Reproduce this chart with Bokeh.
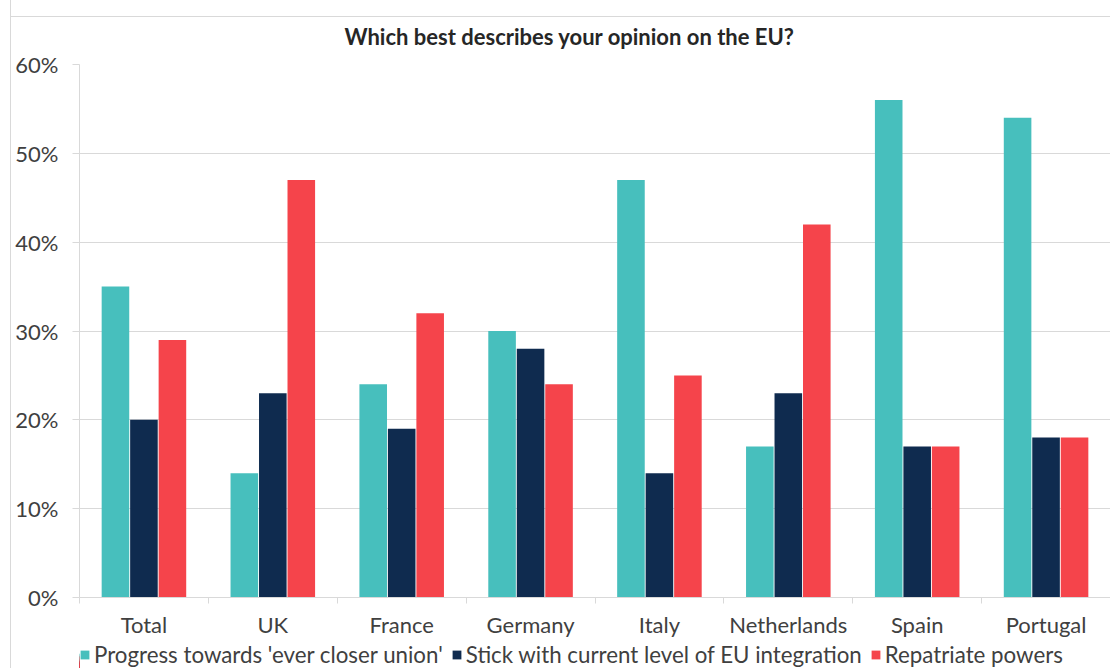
from bokeh.plotting import figure
from bokeh.layouts import column
from bokeh.models import (ColumnDataSource, Range1d, FixedTicker, CustomJSTickFormatter,
                          NumeralTickFormatter, Legend, LegendItem)
from bokeh.transform import dodge
from bokeh.embed import file_html
from bokeh.resources import INLINE

categories = ["Total", "UK", "France", "Germany", "Italy", "Netherlands", "Spain", "Portugal"]
progress = [35, 14, 24, 30, 47, 17, 56, 54]
stick = [20, 23, 19, 28, 14, 23, 17, 18]
repatriate = [29, 47, 32, 24, 25, 42, 17, 18]
series_names = ["Progress towards 'ever closer union'",
                "Stick with current level of EU integration",
                "Repatriate powers"]
colors = ["#47BFBD", "#0F2B4F", "#F5444B"]
y_ticks = [0, 0.1, 0.2, 0.3, 0.4, 0.5, 0.6]

FONT = "Lato"
TEXT = "#404040"
GRID = "#d9d9d9"
FS = "22px"

centers = [i + 0.5 for i in range(len(categories))]
src = ColumnDataSource(dict(
    x=centers,
    p=[v / 100 for v in progress],
    s=[v / 100 for v in stick],
    r=[v / 100 for v in repatriate],
))

W = 1099
p = figure(width=W, height=641, output_backend="svg", toolbar_location=None,
           x_range=Range1d(0, 8), y_range=Range1d(0, 0.6),
           min_border_left=68, min_border_right=0, min_border_top=64, min_border_bottom=44,
           border_fill_alpha=0)

p.title.text = "Which best describes your opinion on the EU?"
p.title.text_font = FONT
p.title.text_font_size = FS
p.title.text_font_style = "bold"
p.title.text_color = "#262626"
p.title.align = "left"
p.title.offset = 265
p.title.standoff = 29

step = 0.221
bw = 0.214
r1 = p.vbar(x=dodge("x", -step, range=p.x_range), top="p", width=bw, source=src,
            fill_color=colors[0], line_color=None)
r2 = p.vbar(x=dodge("x", 0, range=p.x_range), top="s", width=bw, source=src,
            fill_color=colors[1], line_color=None)
r3 = p.vbar(x=dodge("x", step, range=p.x_range), top="r", width=bw, source=src,
            fill_color=colors[2], line_color=None)

# x axis
xa = p.xaxis[0]
xa.ticker = FixedTicker(ticks=centers, minor_ticks=list(range(len(categories) + 1)))
xa.formatter = CustomJSTickFormatter(args=dict(names=categories),
                                     code="return names[Math.floor(tick)]")
xa.major_tick_line_color = None
xa.major_tick_out = 6
xa.major_tick_in = 0
xa.minor_tick_line_color = GRID
xa.minor_tick_out = 6
xa.minor_tick_in = 0
xa.axis_line_color = GRID
xa.major_label_text_font = FONT
xa.major_label_text_font_size = FS
xa.major_label_text_color = TEXT
xa.major_label_standoff = 7

# y axis
ya = p.yaxis[0]
ya.ticker = FixedTicker(ticks=y_ticks)
ya.formatter = NumeralTickFormatter(format="0%")
ya.axis_line_color = GRID
ya.major_tick_line_color = GRID
ya.major_tick_out = 7
ya.major_tick_in = 0
ya.minor_tick_line_color = None
ya.major_label_text_font = FONT
ya.major_label_text_font_size = FS
ya.major_label_text_color = TEXT
ya.major_label_standoff = 14

p.xgrid.grid_line_color = None
p.ygrid.grid_line_color = GRID
p.ygrid.ticker = FixedTicker(ticks=y_ticks)
p.outline_line_color = None

# legend strip (separate figure directly below the chart)
lf = figure(width=W, height=27, output_backend="svg", toolbar_location=None,
            x_axis_type=None, y_axis_type=None,
            x_range=Range1d(100, 101), y_range=Range1d(0, 1),
            min_border_left=0, min_border_right=0, min_border_top=0, min_border_bottom=0,
            border_fill_alpha=0, background_fill_alpha=0)
lf.grid.grid_line_color = None
lf.outline_line_color = None
lr = [lf.vbar(x="x", top=col, width=bw, source=src, fill_color=c, line_color=None)
      for col, c in zip(["p", "s", "r"], colors)]

legend = Legend(items=[LegendItem(label=n, renderers=[r]) for n, r in zip(series_names, lr)],
                orientation="horizontal", location=(0, 0),
                label_text_font=FONT, label_text_font_size="22.3px", label_text_color=TEXT,
                glyph_width=11, glyph_height=11, label_standoff=4, spacing=8,
                padding=0, margin=0, border_line_color=None, background_fill_alpha=0)
lf.add_layout(legend)

layout = column(p, lf, spacing=0)
layout.styles = {"margin-left": "10px", "border-left": "1px solid #d9d9d9",
                 "background": "linear-gradient(#d9d9d9, #d9d9d9) 0px 16px / 100% 1px no-repeat, #ffffff"}

open("out.html", "w").write(file_html(layout, INLINE))
